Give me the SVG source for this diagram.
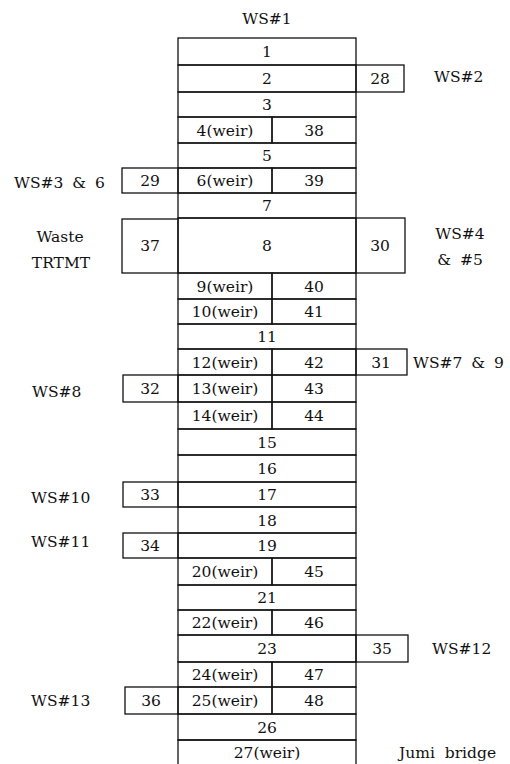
<svg xmlns="http://www.w3.org/2000/svg" width="510" height="764" viewBox="0 0 510 764">
  <style>
    .cell { fill: none; stroke: #111; stroke-width: 1.3; }
    text { font-family: "DejaVu Serif", "Liberation Serif", serif; font-size: 15.5px; fill: #111; }
    .c { text-anchor: middle; }
    .lbl { word-spacing: 4px; }
  </style>
  <rect width="510" height="764" fill="#fff"/>

  <!-- station labels -->
  <g id="labels">
    <text class="c" x="267" y="24">WS#1</text>
    <text x="434" y="82">WS#2</text>
    <text class="lbl" x="14" y="188">WS#3 &amp; 6</text>
    <text class="c" x="60" y="242">Waste</text>
    <text class="c" x="61" y="268">TRTMT</text>
    <text class="c" x="460" y="239">WS#4</text>
    <text class="c lbl" x="460" y="265">&amp; #5</text>
    <text class="lbl" x="413" y="368">WS#7 &amp; 9</text>
    <text x="32" y="397">WS#8</text>
    <text x="31" y="503">WS#10</text>
    <text x="31" y="547">WS#11</text>
    <text x="432" y="654">WS#12</text>
    <text x="31" y="706">WS#13</text>
    <text x="399" y="758" style="word-spacing:5px">Jumi bridge</text>
  </g>

  <!-- main reach segments (x 178..356, split at 272) -->
  <g id="seg-1"><rect class="cell" x="178" y="38" width="178" height="27"/><text class="c" x="267" y="57">1</text></g>
  <g id="seg-2"><rect class="cell" x="178" y="65" width="178" height="27"/><text class="c" x="267" y="84">2</text></g>
  <g id="seg-3"><rect class="cell" x="178" y="92" width="178" height="25"/><text class="c" x="267" y="110">3</text></g>
  <g id="seg-4"><rect class="cell" x="178" y="117" width="94" height="26"/><text class="c" x="225" y="135.5">4(weir)</text></g>
  <g id="seg-38"><rect class="cell" x="272" y="117" width="84" height="26"/><text class="c" x="314" y="135.5">38</text></g>
  <g id="seg-5"><rect class="cell" x="178" y="143" width="178" height="25"/><text class="c" x="267" y="161">5</text></g>
  <g id="seg-6"><rect class="cell" x="178" y="168" width="94" height="25"/><text class="c" x="225" y="186">6(weir)</text></g>
  <g id="seg-39"><rect class="cell" x="272" y="168" width="84" height="25"/><text class="c" x="314" y="186">39</text></g>
  <g id="seg-7"><rect class="cell" x="178" y="193" width="178" height="25"/><text class="c" x="267" y="211">7</text></g>
  <g id="seg-8"><rect class="cell" x="178" y="218" width="178" height="55"/><text class="c" x="267" y="251">8</text></g>
  <g id="seg-9"><rect class="cell" x="178" y="273" width="94" height="26"/><text class="c" x="225" y="291.5">9(weir)</text></g>
  <g id="seg-40"><rect class="cell" x="272" y="273" width="84" height="26"/><text class="c" x="314" y="291.5">40</text></g>
  <g id="seg-10"><rect class="cell" x="178" y="299" width="94" height="25"/><text class="c" x="225" y="317">10(weir)</text></g>
  <g id="seg-41"><rect class="cell" x="272" y="299" width="84" height="25"/><text class="c" x="314" y="317">41</text></g>
  <g id="seg-11"><rect class="cell" x="178" y="324" width="178" height="25"/><text class="c" x="267" y="342">11</text></g>
  <g id="seg-12"><rect class="cell" x="178" y="349" width="94" height="26"/><text class="c" x="225" y="367.5">12(weir)</text></g>
  <g id="seg-42"><rect class="cell" x="272" y="349" width="84" height="26"/><text class="c" x="314" y="367.5">42</text></g>
  <g id="seg-13"><rect class="cell" x="178" y="375" width="94" height="27"/><text class="c" x="225" y="394">13(weir)</text></g>
  <g id="seg-43"><rect class="cell" x="272" y="375" width="84" height="27"/><text class="c" x="314" y="394">43</text></g>
  <g id="seg-14"><rect class="cell" x="178" y="402" width="94" height="27"/><text class="c" x="225" y="421">14(weir)</text></g>
  <g id="seg-44"><rect class="cell" x="272" y="402" width="84" height="27"/><text class="c" x="314" y="421">44</text></g>
  <g id="seg-15"><rect class="cell" x="178" y="429" width="178" height="26"/><text class="c" x="267" y="447.5">15</text></g>
  <g id="seg-16"><rect class="cell" x="178" y="455" width="178" height="27"/><text class="c" x="267" y="474">16</text></g>
  <g id="seg-17"><rect class="cell" x="178" y="482" width="178" height="25"/><text class="c" x="267" y="500">17</text></g>
  <g id="seg-18"><rect class="cell" x="178" y="507" width="178" height="26"/><text class="c" x="267" y="525.5">18</text></g>
  <g id="seg-19"><rect class="cell" x="178" y="533" width="178" height="25"/><text class="c" x="267" y="551">19</text></g>
  <g id="seg-20"><rect class="cell" x="178" y="558" width="94" height="27"/><text class="c" x="225" y="577">20(weir)</text></g>
  <g id="seg-45"><rect class="cell" x="272" y="558" width="84" height="27"/><text class="c" x="314" y="577">45</text></g>
  <g id="seg-21"><rect class="cell" x="178" y="585" width="178" height="25"/><text class="c" x="267" y="603">21</text></g>
  <g id="seg-22"><rect class="cell" x="178" y="610" width="94" height="25"/><text class="c" x="225" y="628">22(weir)</text></g>
  <g id="seg-46"><rect class="cell" x="272" y="610" width="84" height="25"/><text class="c" x="314" y="628">46</text></g>
  <g id="seg-23"><rect class="cell" x="178" y="635" width="178" height="27"/><text class="c" x="267" y="654">23</text></g>
  <g id="seg-24"><rect class="cell" x="178" y="662" width="94" height="25"/><text class="c" x="225" y="680">24(weir)</text></g>
  <g id="seg-47"><rect class="cell" x="272" y="662" width="84" height="25"/><text class="c" x="314" y="680">47</text></g>
  <g id="seg-25"><rect class="cell" x="178" y="687" width="94" height="27"/><text class="c" x="225" y="706">25(weir)</text></g>
  <g id="seg-48"><rect class="cell" x="272" y="687" width="84" height="27"/><text class="c" x="314" y="706">48</text></g>
  <g id="seg-26"><rect class="cell" x="178" y="714" width="178" height="26"/><text class="c" x="267" y="732.5">26</text></g>
  <g id="seg-27"><path class="cell" d="M178 770 V740 H356 V770"/><text class="c" x="267" y="758">27(weir)</text></g>

  <!-- side tributary segments -->
  <g id="seg-28"><rect class="cell" x="356" y="65" width="48" height="27"/><text class="c" x="380" y="84">28</text></g>
  <g id="seg-29"><rect class="cell" x="122" y="168" width="56" height="25"/><text class="c" x="150" y="186">29</text></g>
  <g id="seg-37"><rect class="cell" x="122" y="219" width="56" height="54"/><text class="c" x="150" y="251">37</text></g>
  <g id="seg-30"><rect class="cell" x="356" y="218" width="49" height="55"/><text class="c" x="380" y="251">30</text></g>
  <g id="seg-31"><rect class="cell" x="356" y="349" width="51" height="26"/><text class="c" x="381" y="367.5">31</text></g>
  <g id="seg-32"><rect class="cell" x="123" y="375" width="55" height="27"/><text class="c" x="150" y="394">32</text></g>
  <g id="seg-33"><rect class="cell" x="123" y="482" width="55" height="25"/><text class="c" x="150" y="500">33</text></g>
  <g id="seg-34"><rect class="cell" x="123" y="533" width="55" height="25"/><text class="c" x="150" y="551">34</text></g>
  <g id="seg-35"><rect class="cell" x="356" y="635" width="52" height="27"/><text class="c" x="382" y="654">35</text></g>
  <g id="seg-36"><rect class="cell" x="125" y="687" width="53" height="27"/><text class="c" x="151" y="706">36</text></g>

  <g id="connectors"/>
</svg>
